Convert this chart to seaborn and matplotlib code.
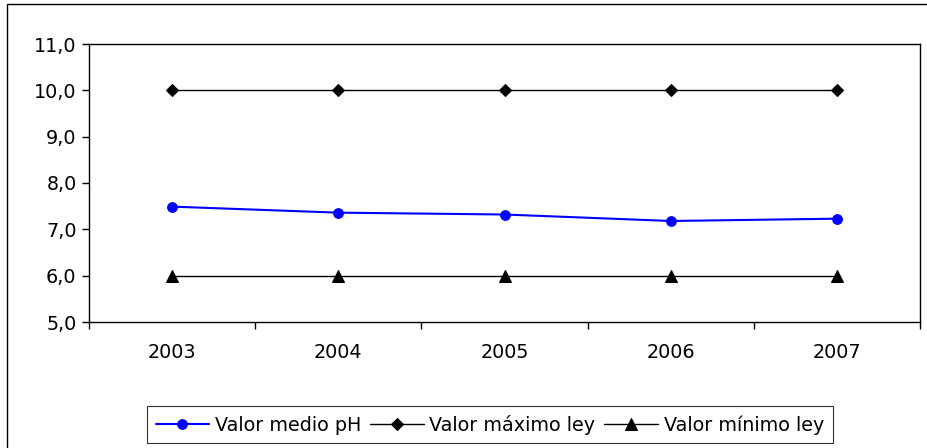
import numpy as np
import pandas as pd
import matplotlib
matplotlib.use("Agg")
import matplotlib.pyplot as plt
import seaborn as sns
from matplotlib.ticker import FixedLocator, FuncFormatter

# Data
years = ["2003", "2004", "2005", "2006", "2007"]
ph_mean = [7.49, 7.36, 7.32, 7.18, 7.23]
ph_max = [10.0, 10.0, 10.0, 10.0, 10.0]
ph_min = [6.0, 6.0, 6.0, 6.0, 6.0]

sns.set_style("white")
plt.rcParams["font.family"] = ["DejaVu Sans"]
plt.rcParams["text.color"] = "black"
plt.rcParams["xtick.color"] = "black"
plt.rcParams["ytick.color"] = "black"

df = pd.DataFrame({"year": years, "mean": ph_mean, "max": ph_max, "min": ph_min})

fig = plt.figure(figsize=(9.27, 4.48), dpi=100)
ax = fig.add_axes([89 / 927, 1 - 322 / 448, (920 - 89) / 927, (322 - 44) / 448])

sns.lineplot(data=df, x="year", y="mean", ax=ax, color="#0000FF", marker="o",
             markersize=7, markeredgecolor="#0000FF", linewidth=1.5, label="Valor medio pH")
sns.lineplot(data=df, x="year", y="max", ax=ax, color="black", marker="D",
             markersize=6.5, markeredgecolor="black", linewidth=1, label="Valor máximo ley")
sns.lineplot(data=df, x="year", y="min", ax=ax, color="black", marker="^",
             markersize=8, markeredgecolor="black", linewidth=1, label="Valor mínimo ley")

ax.set_xlim(-0.5, 4.5)
ax.set_ylim(5, 11)
ax.set_yticks(np.arange(5, 11.5, 1))
ax.yaxis.set_major_formatter(FuncFormatter(lambda v, p: f"{v:.1f}".replace(".", ",")))
ax.set_xlabel("")
ax.set_ylabel("")

# category boundary ticks on x axis
ax.xaxis.set_minor_locator(FixedLocator(np.arange(-0.5, 5, 1)))
ax.tick_params(axis="x", which="major", length=0, pad=15, labelsize=13.8)
ax.tick_params(axis="x", which="minor", length=5, width=1, direction="out", bottom=True)
ax.tick_params(axis="y", which="major", length=5, width=1, direction="out", left=True, labelsize=13.8, pad=4)

for s in ax.spines.values():
    s.set_color("black")
    s.set_linewidth(1)

leg = ax.legend(loc="upper left", bbox_to_anchor=((147 - 89) / 831, -84 / 278), ncol=3, frameon=True,
                fancybox=False, edgecolor="black", fontsize=13.8, handlelength=2.8,
                columnspacing=0.45, handletextpad=0.3, borderpad=0.45, borderaxespad=0)
leg.get_frame().set_linewidth(0.8)

# outer chart border (right and bottom sides fall outside the image)
fig.patches.append(plt.Rectangle((7 / 927, -10 / 448), 930 / 927, 454 / 448, transform=fig.transFigure,
                                 fill=False, edgecolor="black", linewidth=1))

fig.savefig("out.png", dpi=100)
